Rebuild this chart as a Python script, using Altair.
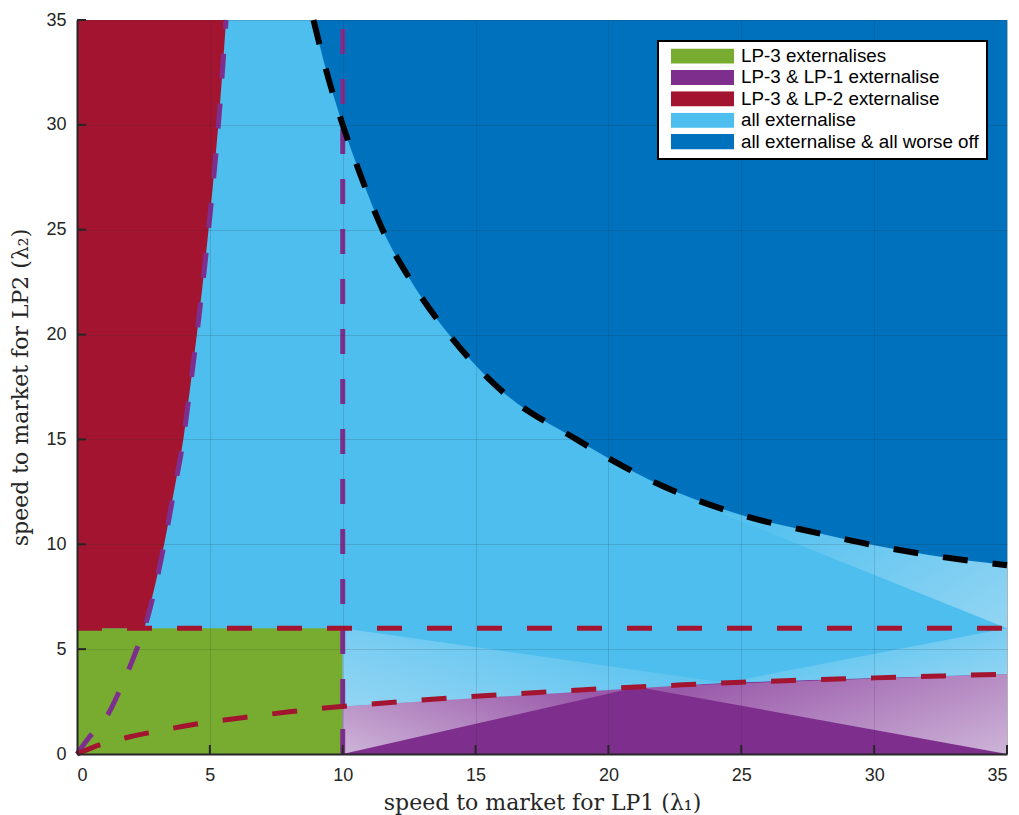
import altair as alt
import pandas as pd

# Region / legend definitions (MATLAB default palette)
regions = [
    "LP-3 externalises",
    "LP-3 & LP-1 externalise",
    "LP-3 & LP-2 externalise",
    "all externalise",
    "all externalise & all worse off",
]
region_colors = ["#77AC30", "#7E2F8E", "#A2142F", "#4DBEEE", "#0072BD"]

# Threshold at which LP-2 switches (horizontal boundary) and LP-1 switches (vertical boundary)
lp2_threshold = 6.0
lp1_threshold = 10.0
axis_max = 35.0

# Boundary curve: LP-1 indifference (red dashed), lambda_2 as a function of lambda_1
red_x = [0, 1, 2, 3, 4, 5, 6, 7, 8, 9, 10, 12.5, 15, 17.5, 20, 22.5, 25, 27.5, 30, 32.5, 35]
red_y = [0, 0.5, 0.82, 1.08, 1.32, 1.53, 1.69, 1.86, 2.01, 2.15, 2.27, 2.53, 2.75, 2.95, 3.13,
         3.28, 3.42, 3.53, 3.63, 3.72, 3.81]

# Boundary curve: LP-2 indifference (purple dashed), lambda_1 as a function of lambda_2
purple_x = [0, 0.38, 1.19, 1.56, 2.25, 2.54, 3.28, 3.63, 4.0, 4.2, 4.51, 4.95, 5.32, 5.61]
purple_y = [0, 0.67, 1.94, 2.9, 5.0, 6.0, 10.0, 12.4, 15.0, 16.9, 20.0, 25.0, 30.0, 35.0]

# Welfare boundary (black dashed): above it everyone is worse off
black_x = [8.9, 9.4, 10, 10.7, 11.5, 12.6, 14, 16, 18.8, 20, 22, 25, 28, 30, 32, 35]
black_y = [35, 32.5, 30, 27.5, 25, 22.5, 20, 17.3, 15, 14.1, 12.8, 11.4, 10.5, 9.95, 9.5, 9.0]

# Patch-rendering shading facets (vertices: x, upper y, lower y)
purple_facets = [
    {"x": [10.0, 21.1], "y": [2.27, 3.2], "y2": [0.0, 3.2], "tone": "left"},
    {"x": [21.1, 35.0], "y": [3.2, 3.81], "y2": [3.2, 0.0], "tone": "right"},
]
blue_facets = [
    {"x": [10.0, 24.4], "y": [6.0, 3.4], "y2": [2.27, 3.4], "tone": "left"},
    {"x": [24.4, 35.0], "y": [3.4, 6.0], "y2": [3.4, 3.81], "tone": "right"},
    {"x": [24.0, 35.0], "y": [11.6, 9.0], "y2": [11.6, 6.0], "tone": "right"},
]

tick_values = [0, 5, 10, 15, 20, 25, 30, 35]

W, H = 930, 734
TXT = "#262626"

xs = alt.Scale(domain=[0, axis_max], nice=False)
ys = alt.Scale(domain=[0, axis_max], nice=False)
cscale = alt.Scale(domain=regions, range=region_colors)

rect_symbol = "M-1,-0.24L1,-0.24L1,0.24L-1,0.24Z"
legend = alt.Legend(
    title=None,
    orient="none",
    legendX=581,
    legendY=21,
    symbolType=rect_symbol,
    symbolSize=3969,
    symbolStrokeWidth=0,
    symbolOpacity=1,
    symbolOffset=5.5,
    clipHeight=15,
    rowPadding=1.4,
    labelFont="Liberation Sans",
    labelFontSize=18.8,
    labelColor="black",
    labelOffset=7,
    labelLimit=0,
    padding=7.5,
    strokeColor="black",
    fillColor="white",
    zindex=3,
)

x_axis = alt.Axis(
    values=tick_values, grid=True, tickSize=0, labelPadding=12, zindex=1,
    title="speed to market for LP1 (λ₁)", titlePadding=8,
)
y_axis = alt.Axis(
    values=tick_values, grid=True, tickSize=0, labelPadding=11, zindex=1,
    title="speed to market for LP2 (λ₂)", titlePadding=13,
)

color = alt.Color("region:N", scale=cscale, legend=legend)

# Background: everything not covered below is "all externalise"
bg = pd.DataFrame({"x": [0.0], "x2": [axis_max], "y": [0.0], "y2": [axis_max], "region": [regions[3]]})
base = alt.Chart(bg).mark_rect().encode(
    x=alt.X("x:Q", scale=xs, axis=x_axis),
    x2="x2:Q",
    y=alt.Y("y:Q", scale=ys, axis=y_axis),
    y2="y2:Q",
    color=color,
)

# Only LP-3 externalises: low lambda_1 and low lambda_2
green_df = pd.DataFrame({"x": [0.0], "x2": [lp1_threshold], "y": [0.0], "y2": [lp2_threshold],
                         "region": [regions[0]]})
green = alt.Chart(green_df).mark_rect().encode(
    x=alt.X("x:Q", scale=xs), x2="x2:Q", y=alt.Y("y:Q", scale=ys), y2="y2:Q", color=color
)

# LP-3 & LP-1: right of the LP-1 threshold and below the red boundary
purple_df = pd.DataFrame({"x": red_x, "y": red_y})
purple_df = purple_df[purple_df["x"] >= lp1_threshold].assign(y0=0.0, region=regions[1])
purple_area = alt.Chart(purple_df).mark_area(interpolate="monotone").encode(
    x=alt.X("x:Q", scale=xs), y=alt.Y("y:Q", scale=ys), y2="y0:Q", color=color
)

# LP-3 & LP-2: above the LP-2 threshold and left of the purple boundary
red_df = pd.DataFrame({"x": purple_x, "y": purple_y})
red_df = red_df[red_df["y"] >= lp2_threshold].assign(x0=0.0, region=regions[2])
red_area = alt.Chart(red_df).mark_area(orient="horizontal", interpolate="monotone").encode(
    y=alt.Y("y:Q", scale=ys), x=alt.X("x:Q", scale=xs), x2="x0:Q", color=color
)

# All externalise and all worse off: above the black boundary
dark_df = pd.DataFrame({"x": black_x, "y": black_y}).assign(ytop=axis_max, region=regions[4])
dark_area = alt.Chart(dark_df).mark_area(interpolate="monotone").encode(
    x=alt.X("x:Q", scale=xs), y=alt.Y("y:Q", scale=ys), y2="ytop:Q", color=color
)


def facet_layer(facet, base_col, light_col):
    # Lighter facet fading into the region colour
    if facet["tone"] == "left":
        grad = dict(x1=0, y1=1, x2=1, y2=0.4)
    else:
        grad = dict(x1=1, y1=1, x2=0, y2=0.4)
    fill = alt.LinearGradient(
        gradient="linear",
        stops=[alt.GradientStop(color=light_col, offset=0), alt.GradientStop(color=base_col, offset=1)],
        **grad,
    )
    df = pd.DataFrame({"x": facet["x"], "y": facet["y"], "y2": facet["y2"]})
    return alt.Chart(df).mark_area(color=fill, opacity=1).encode(
        x=alt.X("x:Q", scale=xs), y=alt.Y("y:Q", scale=ys), y2="y2:Q"
    )


facets = [facet_layer(f, "#9A5AAA", "#CDB4D8") for f in purple_facets]
facets += [facet_layer(f, "#55C1EF", "#93D5F3") for f in blue_facets]

dash = [25, 25]


def dashed(df, col, width=5):
    return alt.Chart(df).mark_line(
        color=col, strokeWidth=width, strokeDash=dash, strokeCap="butt", interpolate="monotone"
    ).encode(x=alt.X("x:Q", scale=xs), y=alt.Y("y:Q", scale=ys), order="i:Q")


red_line_df = pd.DataFrame({"x": red_x, "y": red_y, "i": range(len(red_x))})
purple_line_df = pd.DataFrame({"x": purple_x, "y": purple_y, "i": range(len(purple_x))})
black_line_df = pd.DataFrame({"x": black_x, "y": black_y, "i": range(len(black_x))})
hline_df = pd.DataFrame({"x": [0.0, axis_max], "y": [lp2_threshold] * 2, "i": [0, 1]})
vline_df = pd.DataFrame({"x": [lp1_threshold] * 2, "y": [0.0, axis_max], "i": [0, 1]})

lines = [
    dashed(vline_df, "#7E2F8E"),
    dashed(purple_line_df, "#7E2F8E"),
    dashed(hline_df, "#A2142F"),
    dashed(red_line_df, "#A2142F"),
    dashed(black_line_df, "#000000", 6),
]

# Inward-pointing tick marks
tick_df = pd.DataFrame({"t": tick_values[1:]})
xticks = alt.Chart(tick_df).mark_rule(color=TXT, strokeWidth=2).encode(
    x=alt.X("t:Q", scale=xs), y=alt.value(H), y2=alt.value(H - 9)
)
yticks = alt.Chart(tick_df).mark_rule(color=TXT, strokeWidth=2).encode(
    y=alt.Y("t:Q", scale=ys), x=alt.value(0), x2=alt.value(9)
)

chart = alt.layer(
    base, green, purple_area, *facets, red_area, dark_area, *lines, xticks, yticks
).properties(
    width=W, height=H,
    autosize=alt.AutoSizeParams(type="none"),
    padding={"left": 77, "top": 20, "right": 12, "bottom": 61},
).configure_view(
    stroke="#cccccc", strokeWidth=1
).configure_axis(
    gridColor=TXT, gridOpacity=0.15, gridWidth=1,
    domainColor=TXT, domainWidth=2,
    labelFont="Liberation Sans", labelFontSize=18, labelColor=TXT,
    titleFont="DejaVu Serif", titleFontSize=22, titleFontWeight="normal", titleColor=TXT,
).configure_legend(
    strokeWidth=2
)

chart.save("out.html", embed_options={"renderer": "svg", "actions": False})
